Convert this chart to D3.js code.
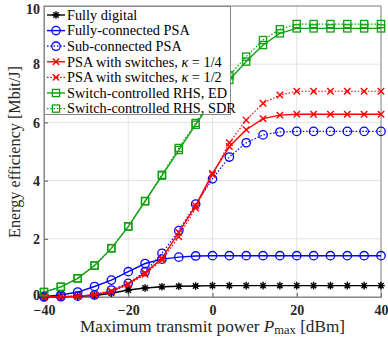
<!DOCTYPE html>
<html><head><meta charset="utf-8">
<script src="https://cdn.jsdelivr.net/npm/d3@7"></script>
<style>body{margin:0;background:#fff}svg{display:block}</style>
</head><body>
<svg id="c" width="388" height="337"></svg>
<script>
const xVals = [-40,-36,-32,-28,-24,-20,-16,-12,-8,-4,0,4,8,12,16,20,24,28,32,36,40];
const fullyDigital = [0.00,0.01,0.02,0.05,0.13,0.24,0.31,0.35,0.37,0.38,0.39,0.39,0.39,0.39,0.39,0.39,0.39,0.39,0.39,0.39,0.39];
const fullyConnected = [0.02,0.07,0.17,0.36,0.58,0.87,1.15,1.30,1.37,1.41,1.42,1.42,1.42,1.42,1.42,1.42,1.42,1.42,1.42,1.42,1.42];
const subConnected = [0.00,0.01,0.03,0.07,0.24,0.47,0.87,1.50,2.28,3.19,4.06,4.81,5.30,5.57,5.67,5.69,5.69,5.69,5.69,5.69,5.69];
const psaK14 = [0.00,0.01,0.03,0.08,0.20,0.45,0.83,1.33,2.22,3.14,4.25,5.17,5.75,6.13,6.25,6.28,6.28,6.28,6.28,6.28,6.28];
const psaK12 = [0.00,0.01,0.03,0.07,0.18,0.42,0.78,1.27,2.07,3.06,4.20,5.30,6.08,6.66,6.94,7.07,7.07,7.07,7.07,7.07,7.07];
const rhsED = [0.17,0.35,0.64,1.08,1.67,2.42,3.29,4.17,5.05,5.92,6.75,7.46,8.09,8.66,9.06,9.23,9.23,9.23,9.23,9.23,9.23];
const rhsSDR = [0.17,0.35,0.64,1.08,1.68,2.43,3.30,4.20,5.12,5.98,6.85,7.62,8.26,8.83,9.20,9.38,9.38,9.38,9.38,9.38,9.38];
const xTicks = [-40,-20,0,20,40];
const yTicks = [0,2,4,6,8,10];

const series = [
  {name:"Fully digital", data:fullyDigital, color:"#000000", dash:null, marker:"asterisk"},
  {name:"Fully-connected PSA", data:fullyConnected, color:"#0000ff", dash:null, marker:"circle"},
  {name:"Sub-connected PSA", data:subConnected, color:"#0000ff", dash:"1.5,1.8", marker:"circle"},
  {name:"PSA with switches, ", kappa:"1/4", data:psaK14, color:"#ff0000", dash:null, marker:"x"},
  {name:"PSA with switches, ", kappa:"1/2", data:psaK12, color:"#ff0000", dash:"1.5,1.8", marker:"x"},
  {name:"Switch-controlled RHS, ED", data:rhsED, color:"#10a010", dash:null, marker:"square"},
  {name:"Switch-controlled RHS, SDR", data:rhsSDR, color:"#10a010", dash:"1.5,1.8", marker:"square"}
];

const svg = d3.select("#c");
const L=44, R=381, T=6, B=297;
const x = d3.scaleLinear().domain([-40,40]).range([L,R]);
const y = d3.scaleLinear().domain([0,10]).range([B,T]);
const FONT = "'Liberation Serif','Times New Roman',serif";

// grid
const g = svg.append("g");
g.selectAll(".gx").data(xTicks).enter().append("line")
  .attr("x1",d=>x(d)).attr("x2",d=>x(d)).attr("y1",T).attr("y2",B)
  .attr("stroke","#e3e3e3").attr("stroke-width",1);
g.selectAll(".gy").data(yTicks).enter().append("line")
  .attr("y1",d=>y(d)).attr("y2",d=>y(d)).attr("x1",L).attr("x2",R)
  .attr("stroke","#e3e3e3").attr("stroke-width",1);

// axes via d3
const xAxis = d3.axisBottom(x).tickValues(xTicks).tickSize(-4).tickPadding(8.5).tickFormat(d3.format("d"));
const yAxis = d3.axisLeft(y).tickValues(yTicks).tickSize(-4).tickPadding(4).tickFormat(d3.format("d"));
const ax = svg.append("g").attr("transform",`translate(0,${B})`).call(xAxis);
const ay = svg.append("g").attr("transform",`translate(${L},0)`).call(yAxis);
[ax,ay].forEach(a=>{
  a.select(".domain").attr("stroke","#8a8a8a");
  a.selectAll(".tick line").attr("stroke","#555");
  a.selectAll("text").attr("font-family",FONT).attr("font-size","14px").attr("font-weight","bold").attr("fill","#262626");
});
ay.selectAll(".tick text").attr("dy",d=> d===0 ? "0.2em" : (d===10 ? "0.5em" : "0.33em"));
svg.append("rect").attr("x",L).attr("y",T).attr("width",R-L).attr("height",B-T)
  .attr("fill","none").attr("stroke","#8a8a8a").attr("stroke-width",1);

function drawMarker(sel, type, color){
  if(type==="circle"){
    sel.append("circle").attr("r",4.2).attr("fill","none").attr("stroke",color).attr("stroke-width",1.3);
  } else if(type==="square"){
    sel.append("rect").attr("x",-3.6).attr("y",-3.6).attr("width",7.2).attr("height",7.2)
      .attr("fill","none").attr("stroke",color).attr("stroke-width",1.3);
  } else if(type==="x"){
    sel.append("path").attr("d","M-3.2,-3.2L3.2,3.2M-3.2,3.2L3.2,-3.2").attr("stroke",color).attr("stroke-width",1.4);
  } else if(type==="asterisk"){
    sel.append("path").attr("d","M-3.8,0L3.8,0M0,-3.8L0,3.8M-2.7,-2.7L2.7,2.7M-2.7,2.7L2.7,-2.7").attr("stroke",color).attr("stroke-width",1.4);
  }
}

const line = d3.line().x((d,i)=>x(xVals[i])).y(d=>y(d));
const plot = svg.append("g");
series.forEach(s=>{
  plot.append("path").datum(s.data).attr("d",line).attr("fill","none")
    .attr("stroke",s.color).attr("stroke-width",s.dash?1.2:1.4)
    .attr("stroke-dasharray",s.dash);
  plot.selectAll(null).data(s.data).enter().append("g")
    .attr("transform",(d,i)=>`translate(${x(xVals[i])},${y(d)})`)
    .each(function(){ drawMarker(d3.select(this), s.marker, s.color); });
});

// legend
const lg = svg.append("g");
lg.append("rect").attr("x",L+0.5).attr("y",T+0.5).attr("width",186).attr("height",108)
  .attr("fill","#fff").attr("stroke","#8a8a8a").attr("stroke-width",1);
series.forEach((s,i)=>{
  const cy = 15 + i*15.6;
  lg.append("line").attr("x1",47).attr("x2",65).attr("y1",cy).attr("y2",cy)
    .attr("stroke",s.color).attr("stroke-width",s.dash?1.2:1.4).attr("stroke-dasharray",s.dash);
  drawMarker(lg.append("g").attr("transform",`translate(56,${cy})`), s.marker, s.color);
  const t = lg.append("text").attr("x",67).attr("y",cy+4.7).attr("font-family",FONT)
    .attr("font-size","14.3px").attr("fill","#000");
  t.append("tspan").text(s.name);
  if(s.kappa){
    t.append("tspan").attr("font-style","italic").text("κ");
    t.append("tspan").text(" = " + s.kappa);
  }
});

// axis labels
const xl = svg.append("text").attr("x",(L+R)/2).attr("y",332).attr("text-anchor","middle")
  .attr("font-family",FONT).attr("font-size","17.2px").attr("fill","#262626");
xl.append("tspan").text("Maximum transmit power ");
xl.append("tspan").attr("font-style","italic").text("P");
xl.append("tspan").attr("font-size","12.5px").attr("dy",2).text("max");
xl.append("tspan").attr("dy",-2).text(" [dBm]");

svg.append("text").attr("transform",`translate(20,152) rotate(-90)`).attr("text-anchor","middle")
  .attr("font-family",FONT).attr("font-size","16.2px").attr("fill","#262626")
  .text("Energy efficiency [Mbit/J]");
</script>
</body></html>
